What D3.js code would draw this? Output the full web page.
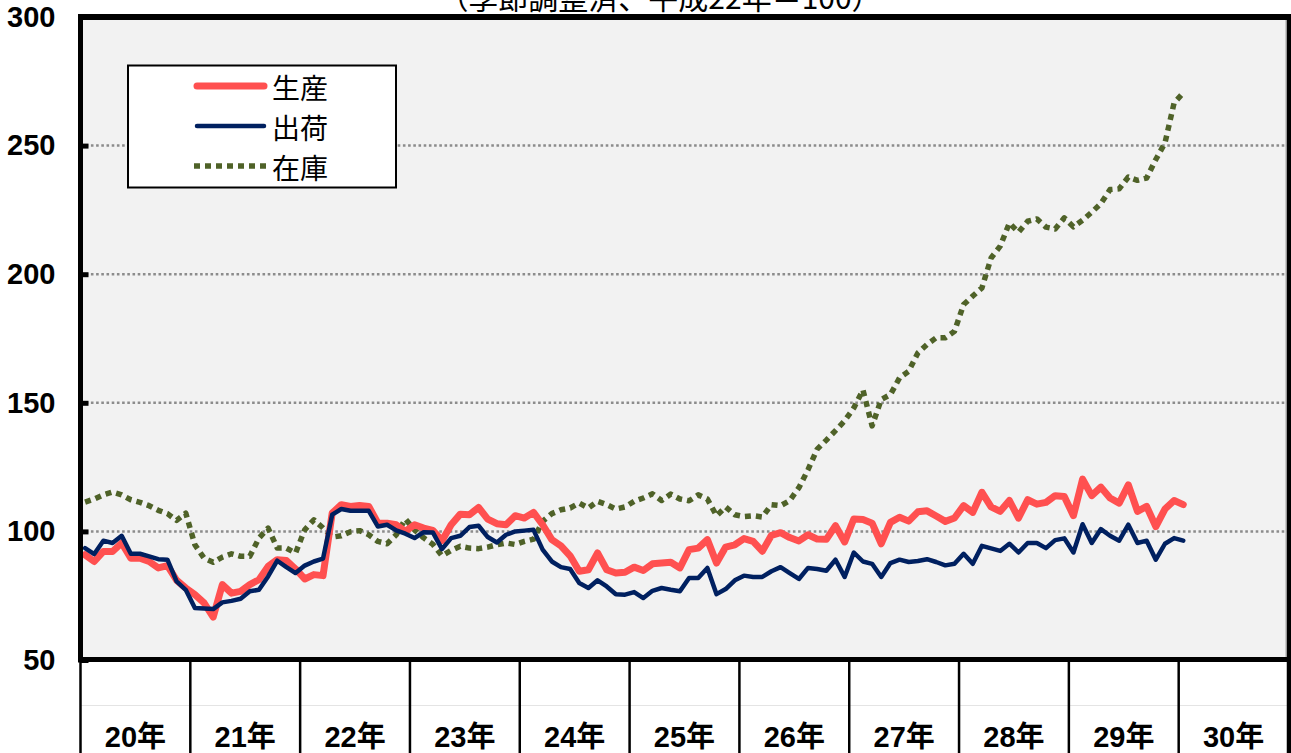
<!DOCTYPE html>
<html>
<head>
<meta charset="utf-8">
<script src="https://cdn.jsdelivr.net/npm/d3@7"></script>
<style>
  html, body { margin: 0; padding: 0; background: #ffffff; }
  svg { display: block; }
</style>
</head>
<body>
<div id="chart"></div>
<script>
// ---- data ----
const titleText = "（季節調整済、平成22年＝100）";
const years = ["20年", "21年", "22年", "23年", "24年", "25年", "26年", "27年", "28年", "29年", "30年"];
const monthsPerYear = 12;
const yTicks = [50, 100, 150, 200, 250, 300];
const gridValues = [100, 150, 200, 250];
const seriesNames = ["生産", "出荷", "在庫"];

const production = [
  90.9, 88.3, 92.2, 92.2, 95.5, 89.6, 89.6, 88.3, 85.8, 86.7, 81.0, 78.0,
  75.4, 72.2, 66.7, 79.3, 76.0, 76.7, 79.3, 81.2, 86.4, 89.0, 88.7, 85.4,
  81.5, 83.2, 82.8, 107.1, 110.4, 109.7, 110.1, 109.7, 103.2, 103.2, 102.6, 100.0,
  102.6, 101.3, 100.4, 96.4, 102.6, 106.7, 106.5, 109.3, 104.8, 103.0, 102.6, 106.1,
  105.2, 107.4, 102.6, 96.8, 94.4, 90.5, 84.5, 85.1, 91.6, 85.1, 83.8, 84.1,
  86.1, 84.8, 87.4, 87.7, 88.0, 85.8, 92.9, 93.5, 96.8, 87.7, 93.9, 94.8,
  97.2, 96.1, 92.3, 98.5, 99.5, 97.6, 96.3, 98.7, 97.0, 96.9, 102.2, 95.9,
  104.8, 104.6, 103.2, 95.2, 103.5, 105.5, 104.0, 107.6, 108.0, 106.0, 103.9, 105.2,
  110.0, 107.4, 115.2, 109.5, 107.8, 112.0, 105.2, 112.3, 110.6, 111.3, 113.9, 113.6,
  106.1, 120.3, 113.9, 117.2, 113.0, 111.0, 118.1, 107.8, 109.7, 101.9, 108.7, 112.0,
  110.4
];
const shipments = [
  93.5, 91.2, 96.4, 95.5, 98.3, 91.3, 91.3, 90.3, 89.2, 89.0, 80.6, 77.3,
  70.2, 70.0, 69.8, 72.4, 73.0, 73.8, 76.7, 77.3, 82.5, 88.6, 86.1, 83.8,
  86.7, 88.3, 89.4, 106.5, 108.7, 108.0, 108.0, 108.0, 101.9, 102.6, 100.4, 99.1,
  97.4, 99.7, 99.6, 93.1, 97.4, 98.3, 101.7, 102.2, 97.8, 95.7, 98.7, 100.0,
  100.3, 100.6, 92.9, 88.3, 86.1, 85.4, 79.9, 78.0, 81.0, 78.6, 75.6, 75.4,
  76.4, 74.1, 76.9, 78.0, 77.3, 76.7, 81.9, 81.9, 85.8, 75.6, 77.6, 81.0,
  82.8, 82.3, 82.3, 84.5, 86.1, 83.8, 81.5, 85.8, 85.4, 84.7, 89.0, 82.3,
  91.8, 88.3, 87.4, 82.3, 87.7, 89.0, 88.1, 88.5, 89.2, 88.1, 86.8, 87.4,
  91.3, 87.4, 94.4, 93.4, 92.4, 95.2, 91.8, 95.5, 95.5, 93.5, 96.6, 97.3,
  91.8, 102.8, 95.5, 100.9, 98.3, 96.4, 102.6, 95.5, 96.4, 89.0, 95.2, 97.4,
  96.4
];
const inventory = [
  111.4, 112.6, 114.2, 115.3, 114.2, 112.3, 111.3, 110.0, 108.2, 106.9, 104.3, 107.1,
  94.8, 89.6, 88.0, 90.0, 91.3, 90.3, 90.3, 97.4, 101.3, 93.5, 93.5, 91.6,
  100.6, 104.5, 101.3, 97.8, 98.3, 99.9, 100.3, 98.7, 96.1, 95.2, 98.7, 104.8,
  100.6, 97.5, 95.0, 90.5, 92.6, 94.2, 93.5, 93.3, 93.9, 94.8, 95.5, 94.9,
  96.1, 97.0, 103.9, 106.9, 108.4, 109.1, 111.0, 109.1, 111.7, 110.4, 108.7, 109.5,
  111.7, 113.0, 114.6, 112.0, 114.5, 112.6, 111.9, 114.2, 112.6, 106.1, 109.5, 106.5,
  105.8, 106.1, 105.6, 110.4, 110.0, 112.0, 117.0, 124.0, 132.0, 135.5, 139.2, 143.0,
  148.0, 155.0, 141.0, 151.3, 153.2, 159.7, 162.3, 169.4, 172.7, 175.3, 175.3, 177.8,
  188.2, 191.5, 194.7, 206.3, 210.9, 219.9, 216.3, 220.6, 221.5, 218.3, 217.6, 221.9,
  218.4, 221.0, 224.1, 227.5, 232.9, 233.2, 237.8, 236.5, 237.4, 244.6, 251.0, 266.6,
  270.5
];

// ---- layout ----
const W = 1291, H = 753;
const plot = { left: 80.5, right: 1288.5, top: 17, bottom: 660 };

const svg = d3.select("#chart").append("svg")
  .attr("width", W).attr("height", H)
  .attr("viewBox", `0 0 ${W} ${H}`);

svg.append("rect").attr("width", W).attr("height", H).attr("fill", "#ffffff");

// month categories
const monthKeys = [];
years.forEach(y => { for (let m = 1; m <= monthsPerYear; m++) monthKeys.push(y + m); });

const x = d3.scaleBand().domain(monthKeys).range([plot.left, plot.right]).paddingInner(0).paddingOuter(0);
const xYear = d3.scaleBand().domain(years).range([plot.left, plot.right]);
const y = d3.scaleLinear().domain([50, 300]).range([plot.bottom, plot.top]);

// title (partly clipped at top, as in the original)
svg.append("text")
  .attr("x", 660).attr("y", 9)
  .attr("text-anchor", "middle")
  .attr("font-family", "'Noto Sans CJK JP', sans-serif")
  .attr("font-size", 30)
  .attr("fill", "#000")
  .text(titleText);

// plot background
svg.append("rect")
  .attr("x", plot.left).attr("y", plot.top)
  .attr("width", plot.right - plot.left).attr("height", plot.bottom - plot.top)
  .attr("fill", "#F2F2F2");

// gridlines
svg.append("g").selectAll("line").data(gridValues).join("line")
  .attr("x1", plot.left).attr("x2", plot.right)
  .attr("y1", d => y(d)).attr("y2", d => y(d))
  .attr("stroke", "#8C8C8C").attr("stroke-width", 2.5)
  .attr("stroke-dasharray", "2.6,2.6");

// thin gray plot border on the right
svg.append("line")
  .attr("x1", plot.right - 2.5).attr("x2", plot.right - 2.5)
  .attr("y1", plot.top).attr("y2", plot.bottom)
  .attr("stroke", "#A6A6A6").attr("stroke-width", 1);

// y axis (labels + inward ticks)
const yAxis = d3.axisLeft(y).tickValues(yTicks).tickSizeInner(-8).tickSizeOuter(0).tickPadding(25);
const gy = svg.append("g").attr("transform", `translate(${plot.left},0)`).call(yAxis);
gy.select(".domain").remove();
gy.selectAll(".tick line").attr("stroke", "#000").attr("stroke-width", 5);
gy.selectAll(".tick text")
  .attr("font-family", "'Liberation Sans', Arial, sans-serif")
  .attr("font-weight", "bold")
  .attr("font-size", 29)
  .attr("fill", "#000");

// category area: light row separator
svg.append("line")
  .attr("x1", plot.left).attr("x2", plot.right)
  .attr("y1", 705.5).attr("y2", 705.5)
  .attr("stroke", "#E4E4E4").attr("stroke-width", 1);

// year separators
const yearBounds = years.map(d => xYear(d)).concat([plot.right]);
svg.append("g").selectAll("line").data(yearBounds).join("line")
  .attr("x1", d => d).attr("x2", d => d)
  .attr("y1", plot.bottom).attr("y2", H)
  .attr("stroke", "#000").attr("stroke-width", 2.5);

// year labels
svg.append("g").selectAll("text").data(years).join("text")
  .attr("x", d => xYear(d) + xYear.bandwidth() / 2)
  .attr("y", 747)
  .attr("text-anchor", "middle")
  .attr("font-family", "'Liberation Sans', Arial, 'Noto Sans CJK JP', sans-serif")
  .attr("font-weight", "bold")
  .attr("font-size", 29)
  .attr("fill", "#000")
  .text(d => d);

// series lines
const lineGen = d3.line()
  .x((d, i) => x(monthKeys[i]) + x.bandwidth() / 2)
  .y(d => y(d));

const linesG = svg.append("g");
linesG.append("path").datum(inventory)
  .attr("d", lineGen).attr("fill", "none")
  .attr("stroke", "#4F6228").attr("stroke-width", 5.5)
  .attr("stroke-dasharray", "6,5").attr("stroke-linejoin", "round");
linesG.append("path").datum(production)
  .attr("d", lineGen).attr("fill", "none")
  .attr("stroke", "#FF5050").attr("stroke-width", 7)
  .attr("stroke-linejoin", "round").attr("stroke-linecap", "round");
linesG.append("path").datum(shipments)
  .attr("d", lineGen).attr("fill", "none")
  .attr("stroke", "#002060").attr("stroke-width", 4.5)
  .attr("stroke-linejoin", "round").attr("stroke-linecap", "round");

// frame: left axis, bottom axis, top and right borders
svg.append("line").attr("x1", 80.5).attr("x2", 80.5).attr("y1", 14.5).attr("y2", 662.5)
  .attr("stroke", "#000").attr("stroke-width", 5);
svg.append("line").attr("x1", 78).attr("x2", W).attr("y1", 659.5).attr("y2", 659.5)
  .attr("stroke", "#000").attr("stroke-width", 5);
svg.append("line").attr("x1", 78).attr("x2", W).attr("y1", 17).attr("y2", 17)
  .attr("stroke", "#000").attr("stroke-width", 6);
svg.append("line").attr("x1", 1289).attr("x2", 1289).attr("y1", 14).attr("y2", H)
  .attr("stroke", "#000").attr("stroke-width", 4.5);

// legend
const legend = svg.append("g");
legend.append("rect")
  .attr("x", 128).attr("y", 65.5).attr("width", 268).attr("height", 122)
  .attr("fill", "#ffffff").attr("stroke", "#000").attr("stroke-width", 2);
const legendItems = [
  { name: seriesNames[0], color: "#FF5050", width: 7, dash: null, cap: "round" },
  { name: seriesNames[1], color: "#002060", width: 4.5, dash: null, cap: "round" },
  { name: seriesNames[2], color: "#4F6228", width: 5.5, dash: "6,5", cap: "butt" }
];
const legendRowY = [86, 126, 166];
legendItems.forEach((it, i) => {
  const ly = legendRowY[i];
  const ln = legend.append("line")
    .attr("x1", it.cap === "round" ? 197 : 194).attr("x2", it.cap === "round" ? 264 : 267)
    .attr("y1", ly).attr("y2", ly)
    .attr("stroke", it.color).attr("stroke-width", it.width)
    .attr("stroke-linecap", it.cap);
  if (it.dash) ln.attr("stroke-dasharray", it.dash);
  legend.append("text")
    .attr("x", 272).attr("y", ly + 1)
    .attr("dominant-baseline", "central")
    .attr("font-family", "'Noto Sans CJK JP', sans-serif")
    .attr("font-size", 28)
    .attr("fill", "#000")
    .text(it.name);
});
</script>
</body>
</html>
